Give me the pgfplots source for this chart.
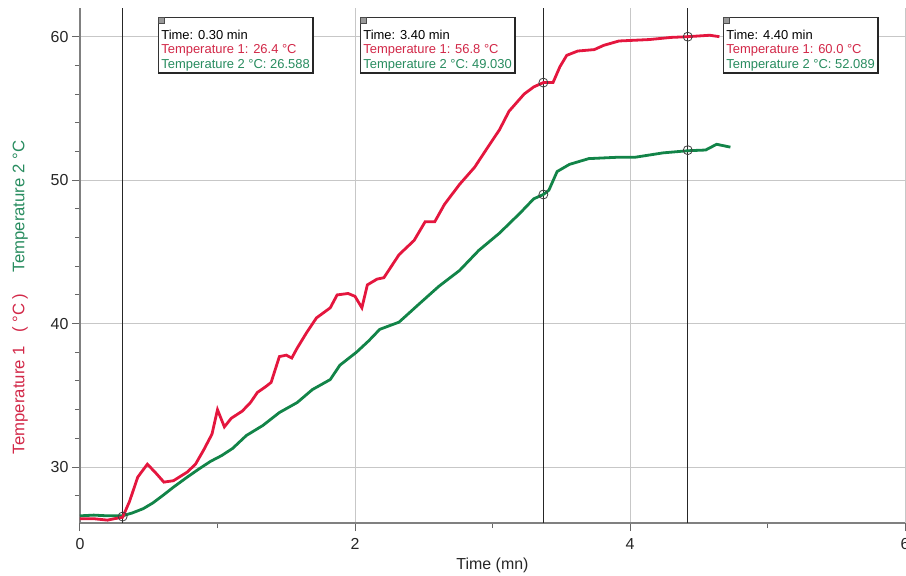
\documentclass[border=0pt]{standalone}
\usepackage{pgfplots}
\pgfplotsset{compat=1.18}
\usepackage{fontspec}
\setmainfont{Liberation Sans}
\definecolor{tred}{RGB}{228,22,62}
\definecolor{tgreen}{RGB}{18,132,72}
\definecolor{lred}{RGB}{210,40,72}
\definecolor{lgreen}{RGB}{40,140,95}
\newcommand{\infobox}[5]{%
 \node[name=#1, anchor=north west, draw=black!80, line width=0.8bp, fill=white, align=left,
   inner xsep=3bp, inner ysep=2bp, font=\fontsize{13}{14.5}\selectfont]
   at (axis cs:#2,61.37) {\rule{0pt}{20bp}Time: #3 min\\ \textcolor{lred}{Temperature 1: #4 °C}\\ \textcolor{lgreen}{Temperature 2 °C: #5}};
 \draw[black!85, line width=2bp] (#1.north east) -- (#1.south east) -- (#1.south west);
 \node[draw=black!70, fill=black!40, inner sep=0pt, minimum size=6bp, anchor=north west] at (#1.north west) {};
}
\begin{document}
\begin{tikzpicture}
\begin{axis}[
  scale only axis, width=825bp, height=515bp,
  xmin=0, xmax=6, ymin=26.1, ymax=62,
  axis lines*=left, axis line style={draw=black!50, line width=1.2bp, -},
  xtick={0,2,4,6}, ytick={30,40,50,60},
  minor xtick={1,3,5},
  minor ytick={28,32,34,36,38,42,44,46,48,52,54,56,58},
  tick align=outside, major tick length=8bp, minor tick length=5bp,
  every tick/.style={black!60, line width=1bp},
  grid=major, major grid style={black!22, line width=0.8bp},
  ticklabel style={font=\fontsize{16}{16}\selectfont, text=black!85},
  xticklabel style={yshift=-4bp},
  /pgf/number format/assume math mode=true,
  xlabel={Time (mn)}, xlabel style={font=\fontsize{16}{16}\selectfont, text=black!85, yshift=-1bp},
  clip=false,
]
% cursor lines
\addplot[black!85, line width=1.2bp] coordinates {(0.31,26.1) (0.31,62)};
\addplot[black!85, line width=1.2bp] coordinates {(3.37,26.1) (3.37,62)};
\addplot[black!85, line width=1.2bp] coordinates {(4.42,26.1) (4.42,62)};
% Temperature 2
\addplot[tgreen, line width=2.8bp] coordinates {
(0,26.6) (0.1,26.65) (0.2,26.6) (0.31,26.6) (0.38,26.8) (0.46,27.1) (0.53,27.5) (0.60,28.0)
(0.68,28.6) (0.78,29.3) (0.87,29.9) (0.95,30.4) (1.03,30.8) (1.11,31.3) (1.21,32.2) (1.33,32.9)
(1.45,33.8) (1.58,34.5) (1.69,35.4) (1.82,36.1) (1.89,37.1) (2.01,38.0) (2.10,38.8) (2.18,39.6)
(2.32,40.1) (2.47,41.4) (2.61,42.6) (2.76,43.7) (2.90,45.1) (3.05,46.3) (3.20,47.7) (3.30,48.7)
(3.37,49.0) (3.41,49.3) (3.47,50.6) (3.56,51.1) (3.70,51.5) (3.92,51.6) (4.04,51.6) (4.24,51.9)
(4.42,52.05) (4.55,52.1) (4.63,52.5) (4.68,52.4) (4.73,52.3)};
% Temperature 1
\addplot[tred, line width=2.8bp] coordinates {
(0,26.4) (0.1,26.4) (0.2,26.3) (0.25,26.4) (0.31,26.5) (0.36,27.6) (0.42,29.3) (0.49,30.2)
(0.55,29.6) (0.61,28.95) (0.68,29.05) (0.78,29.65) (0.84,30.2) (0.90,31.2) (0.96,32.3) (1.0,34.0)
(1.05,32.8) (1.10,33.4) (1.18,33.9) (1.24,34.5) (1.29,35.2) (1.35,35.6) (1.39,35.9) (1.45,37.7)
(1.50,37.8) (1.54,37.6) (1.58,38.3) (1.65,39.4) (1.72,40.4) (1.82,41.1) (1.87,42.0) (1.95,42.1)
(2.0,41.9) (2.05,41.1) (2.09,42.7) (2.16,43.1) (2.21,43.2) (2.32,44.8) (2.43,45.8) (2.51,47.1)
(2.58,47.1) (2.65,48.3) (2.76,49.7) (2.87,50.9) (2.98,52.5) (3.05,53.5) (3.12,54.8) (3.23,56.0)
(3.30,56.5) (3.37,56.8) (3.44,56.8) (3.49,57.9) (3.54,58.7) (3.62,59.0) (3.74,59.1) (3.81,59.4)
(3.92,59.7) (4.14,59.8) (4.30,59.95) (4.42,60.0) (4.58,60.1) (4.65,60.0)};
% cursor points
\addplot[only marks, mark=o, mark size=4.5bp, mark options={black!75, line width=0.8bp}]
 coordinates {(0.31,26.55) (3.37,56.8) (3.37,49.0) (4.42,60.0) (4.42,52.09)};
% info boxes
\infobox{ba}{0.567}{0.30}{26.4}{26.588}
\infobox{bb}{2.036}{3.40}{56.8}{49.030}
\infobox{bc}{4.676}{4.40}{60.0}{52.089}
% y label
\node[rotate=90, font=\fontsize{16.8}{16.8}\selectfont] at ([xshift=-60bp]rel axis cs:0,0.438)
 {\textcolor{lred}{Temperature 1\hspace{14bp}(\hspace{4bp}°C\hspace{4bp})}\hspace{22bp}\textcolor{lgreen}{Temperature 2 °C}};
\end{axis}
\pgfresetboundingbox
\useasboundingbox ([xshift=-80bp,yshift=-52bp]current axis.south west) rectangle ([xshift=1bp,yshift=8bp]current axis.north east);
\end{tikzpicture}
\end{document}
